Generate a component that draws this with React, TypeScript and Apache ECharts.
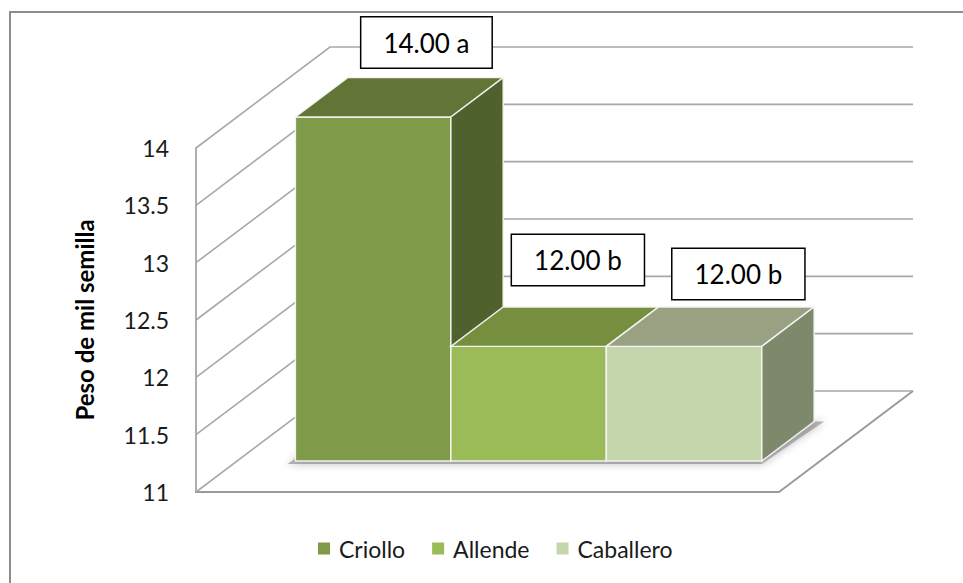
import React, { useEffect, useRef } from "react";
import * as echarts from "echarts";

// Series (one box each), their means and the significance letters
const seriesNames = ["Criollo", "Allende", "Caballero"];
const seriesValues = [14.0, 12.0, 12.0];
const seriesLetters = ["a", "b", "b"];

// Value axis
const axisTitle = "Peso de mil semilla";
const axisMin = 11;
const axisMax = 14;
const axisStep = 0.5;
const tickValues = [11, 11.5, 12, 12.5, 13, 13.5, 14];

// Face colours: front, top, side
const frontColors = ["#7f9a48", "#9bbb59", "#c6d6ac"];
const topColors = ["#627536", "#768f3f", "#98a283"];
const sideColors = ["#4f622d", "#5f7a30", "#7e886a"];

// Oblique projection: pixel offset of the full floor depth
const DEPTH_DX = 134;
const DEPTH_DY = -101;
// Boxes sit between these depth fractions, and span this share of the floor width
const BOX_DEPTH: [number, number] = [0.307, 0.697];
const GROUP_SPAN: [number, number] = [0.1, 0.9];
// Nudges for the value boxes, relative to the top-back centre of each bar
const labelNudge = [
  [1, -10],
  [-3, -22],
  [2, -8],
];

const GRID_COLOR = "#a8a8a8";
const FONT = "Lato, 'Open Sans', sans-serif";

const shift = (p: number[], d: number) => [p[0] + DEPTH_DX * d, p[1] + DEPTH_DY * d];

function wallsRenderItem(params: any, api: any) {
  const t = api.value(1);
  const a = api.coord([0, t]);
  const b = api.coord([1, t]);
  const children: any[] = [
    {
      type: "polyline",
      shape: { points: [a, shift(a, 1), shift(b, 1)] },
      style: { stroke: GRID_COLOR, lineWidth: 1.6, fill: null },
    },
  ];
  if (t === axisMin) {
    children.push({
      type: "line",
      shape: { x1: b[0], y1: b[1], x2: shift(b, 1)[0], y2: shift(b, 1)[1] },
      style: { stroke: "#9a9a9a", lineWidth: 2 },
    });
    // soft shadow cast on the floor under the row of boxes
    const g0 = api.coord([GROUP_SPAN[0], axisMin]);
    const g1 = api.coord([GROUP_SPAN[1], axisMin]);
    const f = BOX_DEPTH[0];
    const k = BOX_DEPTH[1];
    children.push({
      type: "polygon",
      shape: {
        points: [shift([g0[0] - 8, g0[1] + 3], f), shift([g1[0], g1[1] + 3], f), shift([g1[0] + 10, g1[1]], k), shift([g0[0], g0[1]], k)],
      },
      style: { fill: "rgba(120,120,120,0.55)", shadowBlur: 8, shadowColor: "rgba(0,0,0,0.45)" },
    });
  }
  return { type: "group", children };
}

function makeBarRenderer(i: number) {
  return (params: any, api: any) => {
    const v = api.value(1);
    const slot = (GROUP_SPAN[1] - GROUP_SPAN[0]) / seriesNames.length;
    const xa = GROUP_SPAN[0] + i * slot;
    const bl = api.coord([xa, axisMin]);
    const tr = api.coord([xa + slot, v]);
    const L = bl[0];
    const B = bl[1];
    const R = tr[0];
    const T = tr[1];
    const f = BOX_DEPTH[0];
    const k = BOX_DEPTH[1];
    const edge = { stroke: "rgba(245,245,245,0.95)", lineWidth: 1.4 };
    const topBackCentre = shift([(L + R) / 2, T], k);
    return {
      type: "group",
      children: [
        {
          type: "polygon",
          shape: { points: [shift([L, T], f), shift([R, T], f), shift([R, B], f), shift([L, B], f)] },
          style: { fill: frontColors[i], ...edge },
        },
        {
          type: "polygon",
          shape: { points: [shift([L, T], f), shift([R, T], f), shift([R, T], k), shift([L, T], k)] },
          style: { fill: topColors[i], ...edge },
        },
        {
          type: "polygon",
          shape: { points: [shift([R, T], f), shift([R, T], k), shift([R, B], k), shift([R, B], f)] },
          style: { fill: sideColors[i], ...edge },
        },
        {
          type: "text",
          x: topBackCentre[0] + labelNudge[i][0],
          y: topBackCentre[1] + labelNudge[i][1],
          style: {
            text: `${v.toFixed(2)} ${seriesLetters[i]}`,
            font: `26px ${FONT}`,
            fill: "#000",
            align: "center",
            verticalAlign: "bottom",
            backgroundColor: "#fff",
            borderColor: "#000",
            borderWidth: 1.5,
            padding: [12, 22, 12, 22],
          },
        },
      ],
    };
  };
}

export default function App() {
  const ref = useRef<HTMLDivElement>(null);

  useEffect(() => {
    if (!ref.current) return;
    const chart = echarts.init(ref.current, null, { renderer: "svg" });
    const option: any = {
      animation: false,
      backgroundColor: "#fff",
      textStyle: { fontFamily: FONT },
      graphic: [
        {
          type: "rect",
          shape: { x: 10, y: 12, width: 1000, height: 1000 },
          style: { fill: null, stroke: "#8c8c8c", lineWidth: 2 },
          silent: true,
        },
      ],
      grid: { left: 196, right: 184, top: 148, bottom: 91 },
      xAxis: {
        type: "value",
        min: 0,
        max: 1,
        axisLine: { show: true, lineStyle: { color: "#9a9a9a", width: 2 } },
        axisTick: { show: false },
        axisLabel: { show: false },
        splitLine: { show: false },
      },
      yAxis: {
        type: "value",
        min: axisMin,
        max: axisMax,
        interval: axisStep,
        name: axisTitle,
        nameLocation: "middle",
        nameRotate: 90,
        nameGap: 100,
        nameTextStyle: { fontSize: 24, fontWeight: "bold", color: "#000", fontFamily: FONT },
        axisLine: { show: true, lineStyle: { color: "#9a9a9a", width: 1.6 } },
        axisTick: { show: false },
        splitLine: { show: false },
        axisLabel: { fontSize: 23, color: "#1a1a1a", margin: 27, fontFamily: FONT },
      },
      legend: {
        data: seriesNames,
        left: 313,
        top: 532,
        icon: "rect",
        itemWidth: 12,
        itemHeight: 12,
        itemGap: 27,
        textStyle: { fontSize: 23, color: "#1a1a1a", fontFamily: FONT, padding: [0, 0, 0, 4] },
      },
      series: [
        {
          type: "custom",
          name: "walls",
          z: 1,
          silent: true,
          renderItem: wallsRenderItem,
          data: tickValues.map((t) => [0, t]),
        },
        ...seriesNames.map((name, i) => ({
          type: "custom",
          name,
          z: 2 + i,
          itemStyle: { color: frontColors[i] },
          renderItem: makeBarRenderer(i),
          data: [[i, seriesValues[i]]],
        })),
      ],
    };
    chart.setOption(option);
    return () => chart.dispose();
  }, []);

  return (
    <div
      ref={ref}
      style={{ position: "fixed", left: 0, top: 0, width: 963, height: 583 }}
    />
  );
}
